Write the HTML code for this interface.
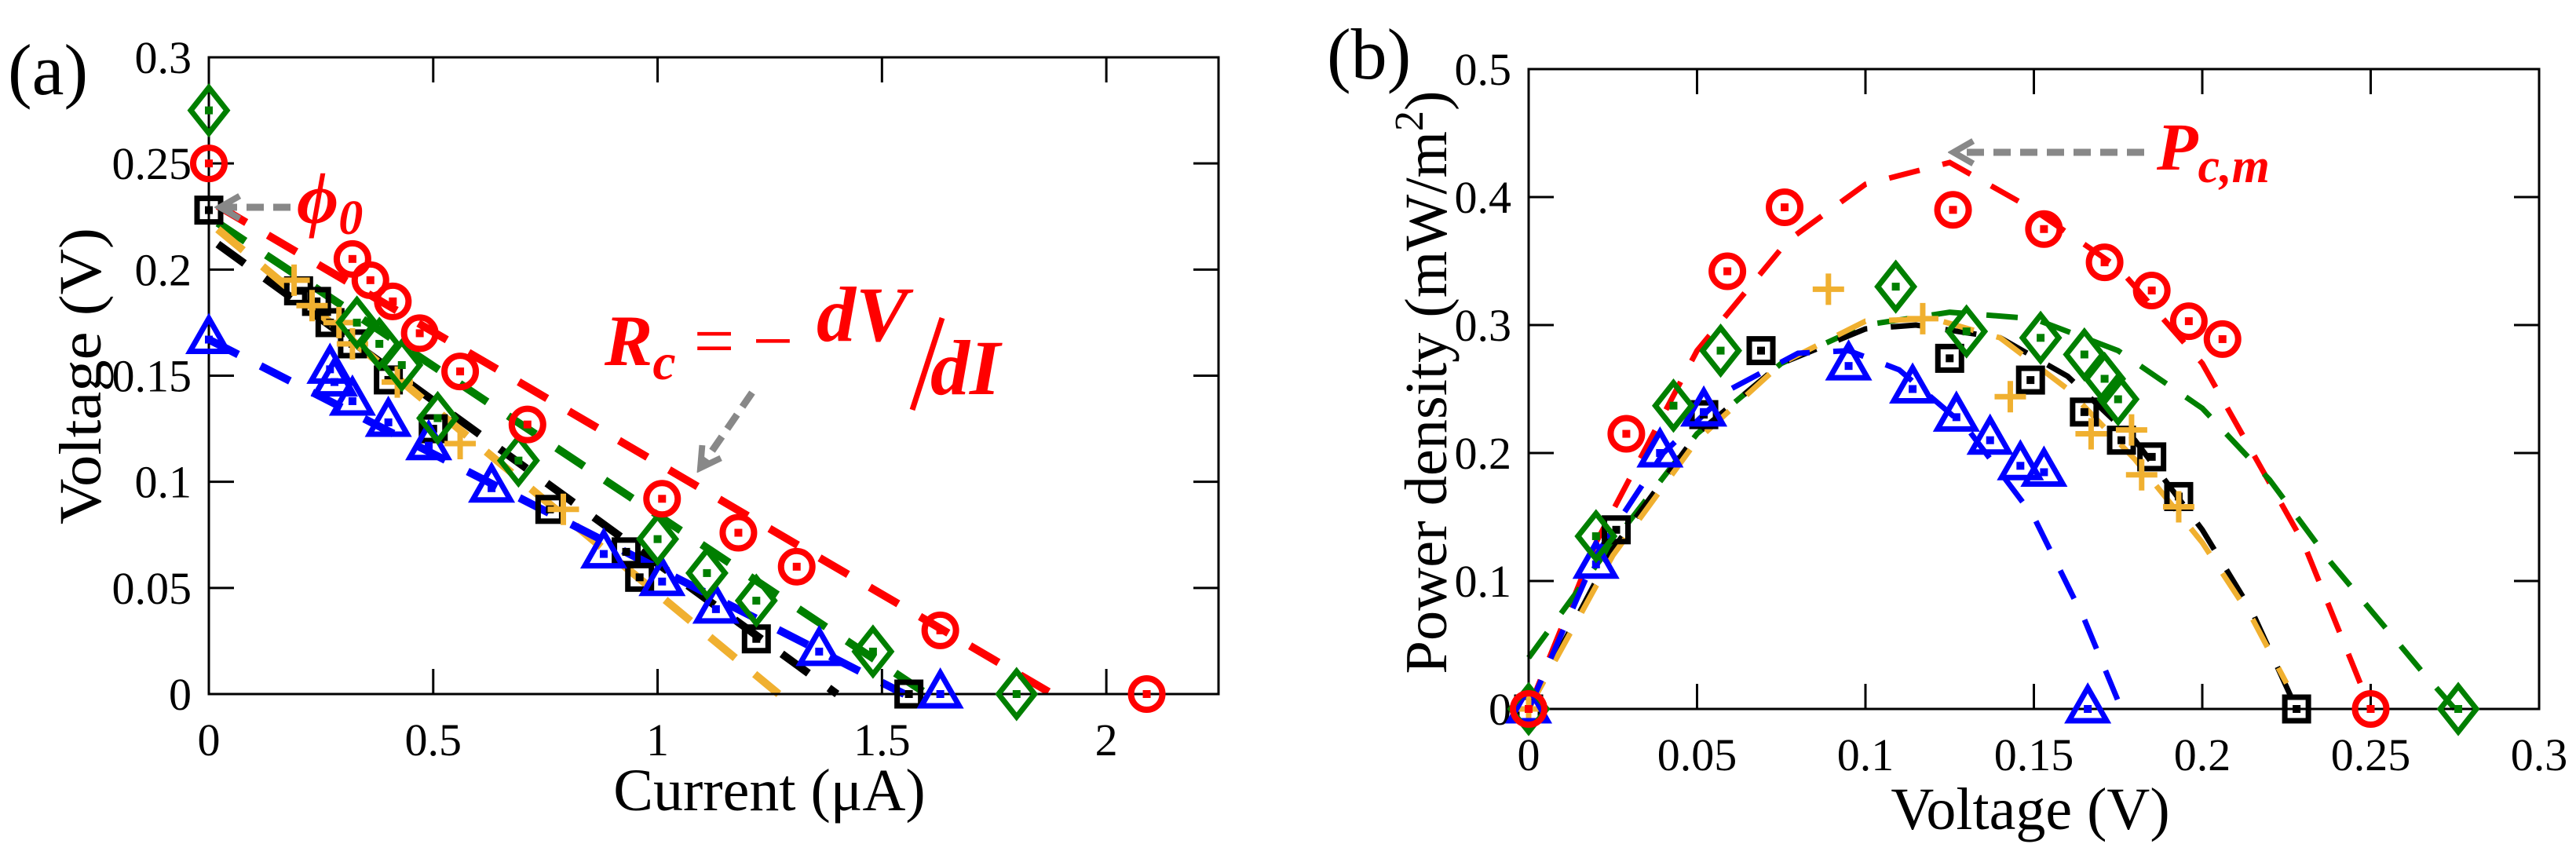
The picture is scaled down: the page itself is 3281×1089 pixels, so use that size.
<!DOCTYPE html>
<html><head><meta charset="utf-8"><style>
html,body{margin:0;padding:0;background:#fff;}
svg{display:block;}
text{font-family:"Liberation Serif",serif;}
</style></head><body>
<svg id="fig" width="3281" height="1089" viewBox="0 0 3281 1089" xmlns="http://www.w3.org/2000/svg">
<defs>
<marker id="ah" viewBox="0 0 10 10" refX="8" refY="5" markerWidth="4" markerHeight="4" orient="auto"><path d="M1,1 L8,5 L1,9" fill="none" stroke="#888" stroke-width="2.2"/></marker>
</defs>
<g id="pa"></g>
<g id="pb"></g>
</svg>
<script>
// ---------- Panel (a) data: Voltage (V) vs Current (uA) ----------
const aRedI=[0,0.32,0.36,0.41,0.47,0.56,0.71,1.01,1.18,1.31,1.63,2.09];
const aRedV=[0.25,0.205,0.195,0.185,0.17,0.152,0.127,0.092,0.076,0.06,0.03,0];
const aGreenI=[0,0.33,0.38,0.43,0.51,0.69,1.0,1.11,1.22,1.48,1.8];
const aGreenV=[0.275,0.175,0.165,0.155,0.13,0.11,0.073,0.057,0.044,0.02,0];
const aBlackI=[0,0.2,0.24,0.27,0.32,0.4,0.5,0.76,0.93,0.96,1.22,1.56];
const aBlackV=[0.228,0.19,0.185,0.175,0.165,0.148,0.125,0.087,0.067,0.055,0.026,0];
const aOrangeI=[0.19,0.23,0.29,0.32,0.42,0.56,0.79];
const aOrangeV=[0.195,0.183,0.175,0.165,0.147,0.118,0.087];
const aBlueI=[0,0.27,0.28,0.32,0.4,0.49,0.63,0.88,1.01,1.13,1.36,1.63];
const aBlueV=[0.167,0.153,0.147,0.138,0.128,0.117,0.097,0.066,0.053,0.04,0.02,0];
// fit lines (endpoints)
const aFitRedI=[0.02,1.88], aFitRedV=[0.23,0];
const aFitGreenI=[0.02,1.6], aFitGreenV=[0.222,0];
const aFitBlackI=[0.02,1.4], aFitBlackV=[0.212,0];
const aFitOrangeI=[0.02,1.27], aFitOrangeV=[0.219,0];
const aFitBlueI=[0,1.55], aFitBlueV=[0.167,0];
const aXTicks=[0,0.5,1,1.5,2], aXTickLabels=["0","0.5","1","1.5","2"];
const aYTicks=[0,0.05,0.1,0.15,0.2,0.25,0.3], aYTickLabels=["0","0.05","0.1","0.15","0.2","0.25","0.3"];

// ---------- Panel (b) data: Power density vs Voltage ----------
const bRedV=[0,0.029,0.059,0.076,0.126,0.153,0.171,0.185,0.196,0.206,0.25];
const bRedP=[0,0.215,0.342,0.392,0.39,0.375,0.349,0.327,0.303,0.289,0];
const bGreenV=[0,0.02,0.043,0.057,0.109,0.13,0.152,0.165,0.171,0.175,0.276];
const bGreenP=[0,0.135,0.237,0.28,0.33,0.295,0.29,0.277,0.258,0.242,0];
const bBlackV=[0,0.026,0.052,0.069,0.125,0.149,0.165,0.176,0.185,0.193,0.228];
const bBlackP=[0,0.14,0.23,0.28,0.274,0.257,0.232,0.21,0.197,0.166,0];
const bOrangeV=[0,0.089,0.117,0.143,0.167,0.179,0.182,0.193];
const bOrangeP=[0,0.328,0.305,0.244,0.215,0.218,0.183,0.158];
const bBlueV=[0,0.02,0.039,0.052,0.095,0.114,0.127,0.137,0.146,0.153,0.166];
const bBlueP=[0,0.113,0.2,0.232,0.268,0.25,0.228,0.21,0.19,0.185,0];
// fit curves
const bFitRedV=[0,0.02,0.05,0.077,0.1,0.125,0.15,0.175,0.2,0.215,0.23,0.25];
const bFitRedP=[0,0.13,0.28,0.366,0.41,0.427,0.39,0.345,0.27,0.2,0.13,0];
const bFitGreenV=[0,0.025,0.05,0.075,0.1,0.125,0.15,0.175,0.2,0.22,0.238,0.265,0.275];
const bFitGreenP=[0.04,0.13,0.215,0.27,0.3,0.31,0.305,0.28,0.235,0.179,0.115,0.03,0];
const bFitBlackV=[0,0.025,0.05,0.075,0.1,0.115,0.14,0.16,0.18,0.2,0.215,0.228];
const bFitBlackP=[0,0.125,0.215,0.27,0.297,0.3,0.29,0.26,0.21,0.14,0.075,0];
const bFitOrangeV=[0,0.025,0.05,0.075,0.1,0.12,0.14,0.16,0.18,0.2,0.215,0.225];
const bFitOrangeP=[0,0.12,0.21,0.27,0.303,0.305,0.29,0.25,0.195,0.13,0.07,0.02];
const bFitBlueV=[0,0.02,0.04,0.06,0.08,0.095,0.11,0.13,0.15,0.165,0.176];
const bFitBlueP=[0,0.12,0.2,0.25,0.278,0.28,0.265,0.22,0.15,0.07,0];
const bXTicks=[0,0.05,0.1,0.15,0.2,0.25,0.3], bXTickLabels=["0","0.05","0.1","0.15","0.2","0.25","0.3"];
const bYTicks=[0,0.1,0.2,0.3,0.4,0.5], bYTickLabels=["0","0.1","0.2","0.3","0.4","0.5"];

const NS="http://www.w3.org/2000/svg";
function mk(parent,tag,attrs,txt){const e=document.createElementNS(NS,tag);for(const k in attrs)e.setAttribute(k,attrs[k]);if(txt!==undefined)e.textContent=txt;parent.appendChild(e);return e;}
const RED="#ff0000",GREEN="#007f00",BLACK="#000000",ORANGE="#f0b030",BLUE="#0000ff";

function marker(g,type,x,y,color){
  let e;
  if(type==="circle"){
    e=mk(g,"circle",{cx:x,cy:y,r:20,fill:"none",stroke:color,"stroke-width":8});
    
    
    mk(g,"rect",{x:x-5,y:y-5,width:10,height:10,fill:color});
  }else if(type==="diamond"){
    e=mk(g,"polygon",{points:`${x},${y-29} ${x+23},${y} ${x},${y+29} ${x-23},${y}`,fill:"none",stroke:color,"stroke-width":7});
    
    
    mk(g,"rect",{x:x-5,y:y-5,width:10,height:10,fill:color});
  }else if(type==="square"){
    e=mk(g,"rect",{x:x-15,y:y-15,width:30,height:30,fill:"none",stroke:color,"stroke-width":7});
    
    
    mk(g,"rect",{x:x-5,y:y-5,width:10,height:10,fill:color});
  }else if(type==="triangle"){
    e=mk(g,"polygon",{points:`${x},${y-27} ${x+24},${y+15} ${x-24},${y+15}`,fill:"none",stroke:color,"stroke-width":7});
    
    
    mk(g,"rect",{x:x-5,y:y-5,width:10,height:10,fill:color});
  }else{
    e=mk(g,"path",{d:`M${x-20},${y}H${x+20}M${x},${y-20}V${y+20}`,stroke:color,"stroke-width":7,fill:"none"});
    
    
  }
}

function panel(root,o){
  const sx=v=>o.L+(v-o.x0)/(o.x1-o.x0)*(o.R-o.L);
  const sy=v=>o.B-(v-o.y0)/(o.y1-o.y0)*(o.B-o.T);
  o.fits.forEach(f=>{
    const d=f.xs.map((v,i)=>(i?"L":"M")+sx(v).toFixed(1)+","+sy(f.ys[i]).toFixed(1)).join("");
    const p=mk(root,"path",{d:d,fill:"none",stroke:f.c,"stroke-width":o.lw,"stroke-dasharray":o.dash});
    
    
  });
  const box=mk(root,"rect",{x:o.L,y:o.T,width:o.R-o.L,height:o.B-o.T,fill:"none",stroke:"#000","stroke-width":3});
  
  
  o.xt.forEach((v,i)=>{
    const x=sx(v);
    mk(root,"line",{x1:x,y1:o.B,x2:x,y2:o.B-32,stroke:"#000","stroke-width":3});
    mk(root,"line",{x1:x,y1:o.T,x2:x,y2:o.T+32,stroke:"#000","stroke-width":3});
    const t=mk(root,"text",{x:x,y:o.B+78,"font-size":58,"text-anchor":"middle"},o.xl[i]);
    
    
  });
  o.yt.forEach((v,i)=>{
    const y=sy(v);
    mk(root,"line",{x1:o.L,y1:y,x2:o.L+32,y2:y,stroke:"#000","stroke-width":3});
    mk(root,"line",{x1:o.R,y1:y,x2:o.R-32,y2:y,stroke:"#000","stroke-width":3});
    const t=mk(root,"text",{x:o.L-22,y:y+20,"font-size":58,"text-anchor":"end"},o.yl[i]);
    
    
  });
  o.series.forEach(s=>{
    const g=mk(root,"g",{});
    
    
    s.xs.forEach((v,i)=>marker(g,s.t,sx(v),sy(s.ys[i]),s.c));
  });
  return {sx,sy};
}

const pa=document.getElementById('pa');
panel(pa,{L:266,R:1552,T:73,B:884,x0:0,x1:2.25,y0:0,y1:0.3,lw:10,dash:"42 32",
  xt:aXTicks,xl:aXTickLabels,yt:aYTicks,yl:aYTickLabels,
  fits:[{xs:aFitRedI,ys:aFitRedV,c:RED,n:"fit-line-red"},{xs:aFitGreenI,ys:aFitGreenV,c:GREEN,n:"fit-line-green"},
        {xs:aFitBlackI,ys:aFitBlackV,c:BLACK,n:"fit-line-black"},{xs:aFitOrangeI,ys:aFitOrangeV,c:ORANGE,n:"fit-line-orange"},
        {xs:aFitBlueI,ys:aFitBlueV,c:BLUE,n:"fit-line-blue"}],
  series:[{xs:aBlackI,ys:aBlackV,t:"square",c:BLACK,n:"series-black-squares"},
          {xs:aOrangeI,ys:aOrangeV,t:"plus",c:ORANGE,n:"series-orange-plus"},
          {xs:aBlueI,ys:aBlueV,t:"triangle",c:BLUE,n:"series-blue-triangles"},
          {xs:aGreenI,ys:aGreenV,t:"diamond",c:GREEN,n:"series-green-diamonds"},
          {xs:aRedI,ys:aRedV,t:"circle",c:RED,n:"series-red-circles"}]});

const pb=document.getElementById('pb');
panel(pb,{L:1947,R:3234,T:88,B:903,x0:0,x1:0.3,y0:0,y1:0.5,lw:7,dash:"40 30",
  xt:bXTicks,xl:bXTickLabels,yt:bYTicks,yl:bYTickLabels,
  fits:[{xs:bFitRedV,ys:bFitRedP,c:RED,n:"fit-curve-red"},{xs:bFitGreenV,ys:bFitGreenP,c:GREEN,n:"fit-curve-green"},
        {xs:bFitBlackV,ys:bFitBlackP,c:BLACK,n:"fit-curve-black"},{xs:bFitOrangeV,ys:bFitOrangeP,c:ORANGE,n:"fit-curve-orange"},
        {xs:bFitBlueV,ys:bFitBlueP,c:BLUE,n:"fit-curve-blue"}],
  series:[{xs:bBlackV,ys:bBlackP,t:"square",c:BLACK,n:"series-black-squares"},
          {xs:bOrangeV,ys:bOrangeP,t:"plus",c:ORANGE,n:"series-orange-plus"},
          {xs:bBlueV,ys:bBlueP,t:"triangle",c:BLUE,n:"series-blue-triangles"},
          {xs:bGreenV,ys:bGreenP,t:"diamond",c:GREEN,n:"series-green-diamonds"},
          {xs:bRedV,ys:bRedP,t:"circle",c:RED,n:"series-red-circles"}]});

(function(){
const s=document.getElementById('fig');
s.insertAdjacentHTML('beforeend',`
<text x="10" y="120" font-size="92">(a)</text>
<text x="1690" y="100" font-size="92">(b)</text>
<text x="980" y="1032" font-size="76" text-anchor="middle">Current (μA)</text>
<text transform="translate(128,479) rotate(-90)" font-size="76" text-anchor="middle" textLength="378" lengthAdjust="spacingAndGlyphs">Voltage (V)</text>
<text x="2586" y="1056" font-size="76" text-anchor="middle">Voltage (V)</text>
<text transform="translate(1842,487) rotate(-90)" font-size="76" text-anchor="middle" textLength="743" lengthAdjust="spacingAndGlyphs">Power density (mW/m<tspan dy="-30" font-size="52">2</tspan><tspan dy="30">)</tspan></text>
<line x1="370" y1="264" x2="280" y2="264" stroke="#888" stroke-width="9" stroke-dasharray="22 12" marker-end="url(#ah)"/>
<text x="378" y="284" font-size="92" font-style="italic" font-weight="bold" fill="#ff0000">ϕ<tspan dy="14" font-size="62">0</tspan></text>
<text x="770" y="465" font-size="92" font-style="italic" font-weight="bold" fill="#ff0000">R<tspan dy="18" font-size="66">c</tspan><tspan dy="-18" font-style="normal" font-weight="normal"> = −</tspan></text>
<text x="1040" y="434" font-size="100" font-style="italic" font-weight="bold" fill="#ff0000">dV</text>
<line x1="1200" y1="405" x2="1162" y2="522" stroke="#ff0000" stroke-width="7"/>
<text x="1185" y="502" font-size="100" font-style="italic" font-weight="bold" fill="#ff0000">dI</text>
<line x1="958" y1="500" x2="892" y2="596" stroke="#888" stroke-width="9" stroke-dasharray="22 12" marker-end="url(#ah)"/>
<line x1="2731" y1="194" x2="2488" y2="194" stroke="#888" stroke-width="9" stroke-dasharray="22 12" marker-end="url(#ah)"/>
<text x="2747" y="216" font-size="86" font-style="italic" font-weight="bold" fill="#ff0000">P<tspan dy="16" font-size="62">c,m</tspan></text>
`);
})();
</script>
</body></html>
